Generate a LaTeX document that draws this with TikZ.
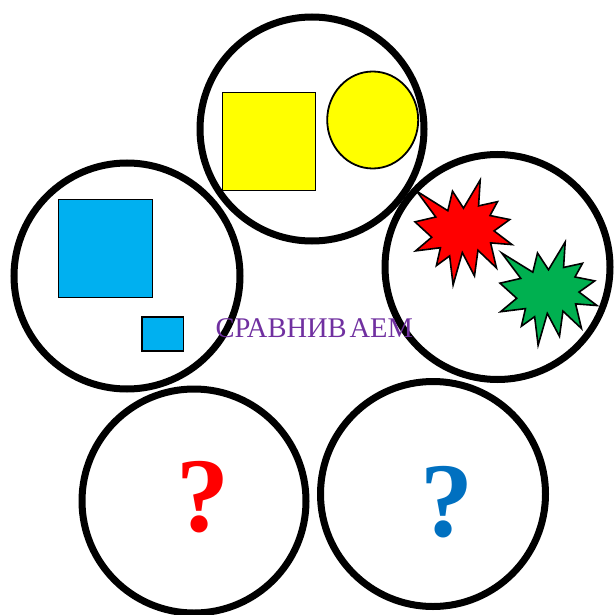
\documentclass[tikz,border=0pt]{standalone}
\usepackage{fontspec}
\setmainfont{Liberation Serif}
\definecolor{ringcol}{HTML}{000000}
\definecolor{yel}{HTML}{FFFF00}
\definecolor{sky}{HTML}{00B0F0}
\definecolor{purp}{HTML}{7030A0}
\definecolor{qred}{HTML}{FF0000}
\definecolor{qblue}{HTML}{0070C0}
\definecolor{sgreen}{HTML}{00B050}
\begin{document}
\begin{tikzpicture}[x=1pt,y=-1pt,
  ring/.style={draw=ringcol,line width=7pt},
  shapebox/.style={draw=black,line width=1.8pt},
  starshape/.style={draw=black,line width=1.6pt,line join=miter},
  qmark/.style={font=\fontsize{106}{106}\selectfont\bfseries,inner sep=0pt},
]
\useasboundingbox (0,0) rectangle (614,615);
% rings
\draw[ring] (312,129) circle[radius=112];
\draw[ring] (127,276) circle[radius=113];
\draw[ring] (497.5,267) circle[radius=112.5];
\draw[ring] (194,501) circle[radius=112];
\draw[ring] (433,494) circle[radius=112.5];
% top ring content
\draw[shapebox,fill=yel] (222.5,92.5) rectangle (315.5,190.5);
\draw[shapebox,fill=yel] (372.7,120) ellipse[x radius=45.5,y radius=48.5];
% left ring content
\draw[shapebox,fill=sky] (58.5,199.5) rectangle (152.5,297.5);
\draw[shapebox,fill=sky] (142,317) rectangle (183.5,351);
% stars
\def\starpath{(108,58) -- (145.22,0) -- (141.55,53.25) -- (183.80,44.57) -- (167.02,73.15) -- (210.97,81.37) -- (176.07,104.75) -- (216,132.90) -- (168.37,129.42) -- (181.45,180.95) -- (140.20,144.57) -- (132.47,197.37) -- (105.32,149.35) -- (84.85,216) -- (77.15,156.27) -- (47.62,176.17) -- (56.67,139.37) -- (1.35,145.87) -- (37.22,117.75) -- (0,86.15) -- (46.27,76.17) -- (3.70,22.95) -- (73.12,63.20) -- (83.52,22.95) -- cycle}
\begin{scope}[shift={(415,180)},xscale=0.449,yscale=0.486]
\draw[starshape,fill=qred] \starpath;
\end{scope}
\begin{scope}[shift={(500,242)},xscale=0.449,yscale=0.478]
\draw[starshape,fill=sgreen] \starpath;
\end{scope}
% text
\node[text=purp,font=\fontsize{28.5}{28.5}\selectfont,inner sep=0pt,anchor=base west] (title) at (215.5,337) {СРАВНИВ\kern3ptАЕМ};
\node[qmark,text=qred] (q1) at (202.5,497.5) {?};
\node[qmark,text=qblue] (q2) at (446.5,502) {?};
\end{tikzpicture}
\end{document}
